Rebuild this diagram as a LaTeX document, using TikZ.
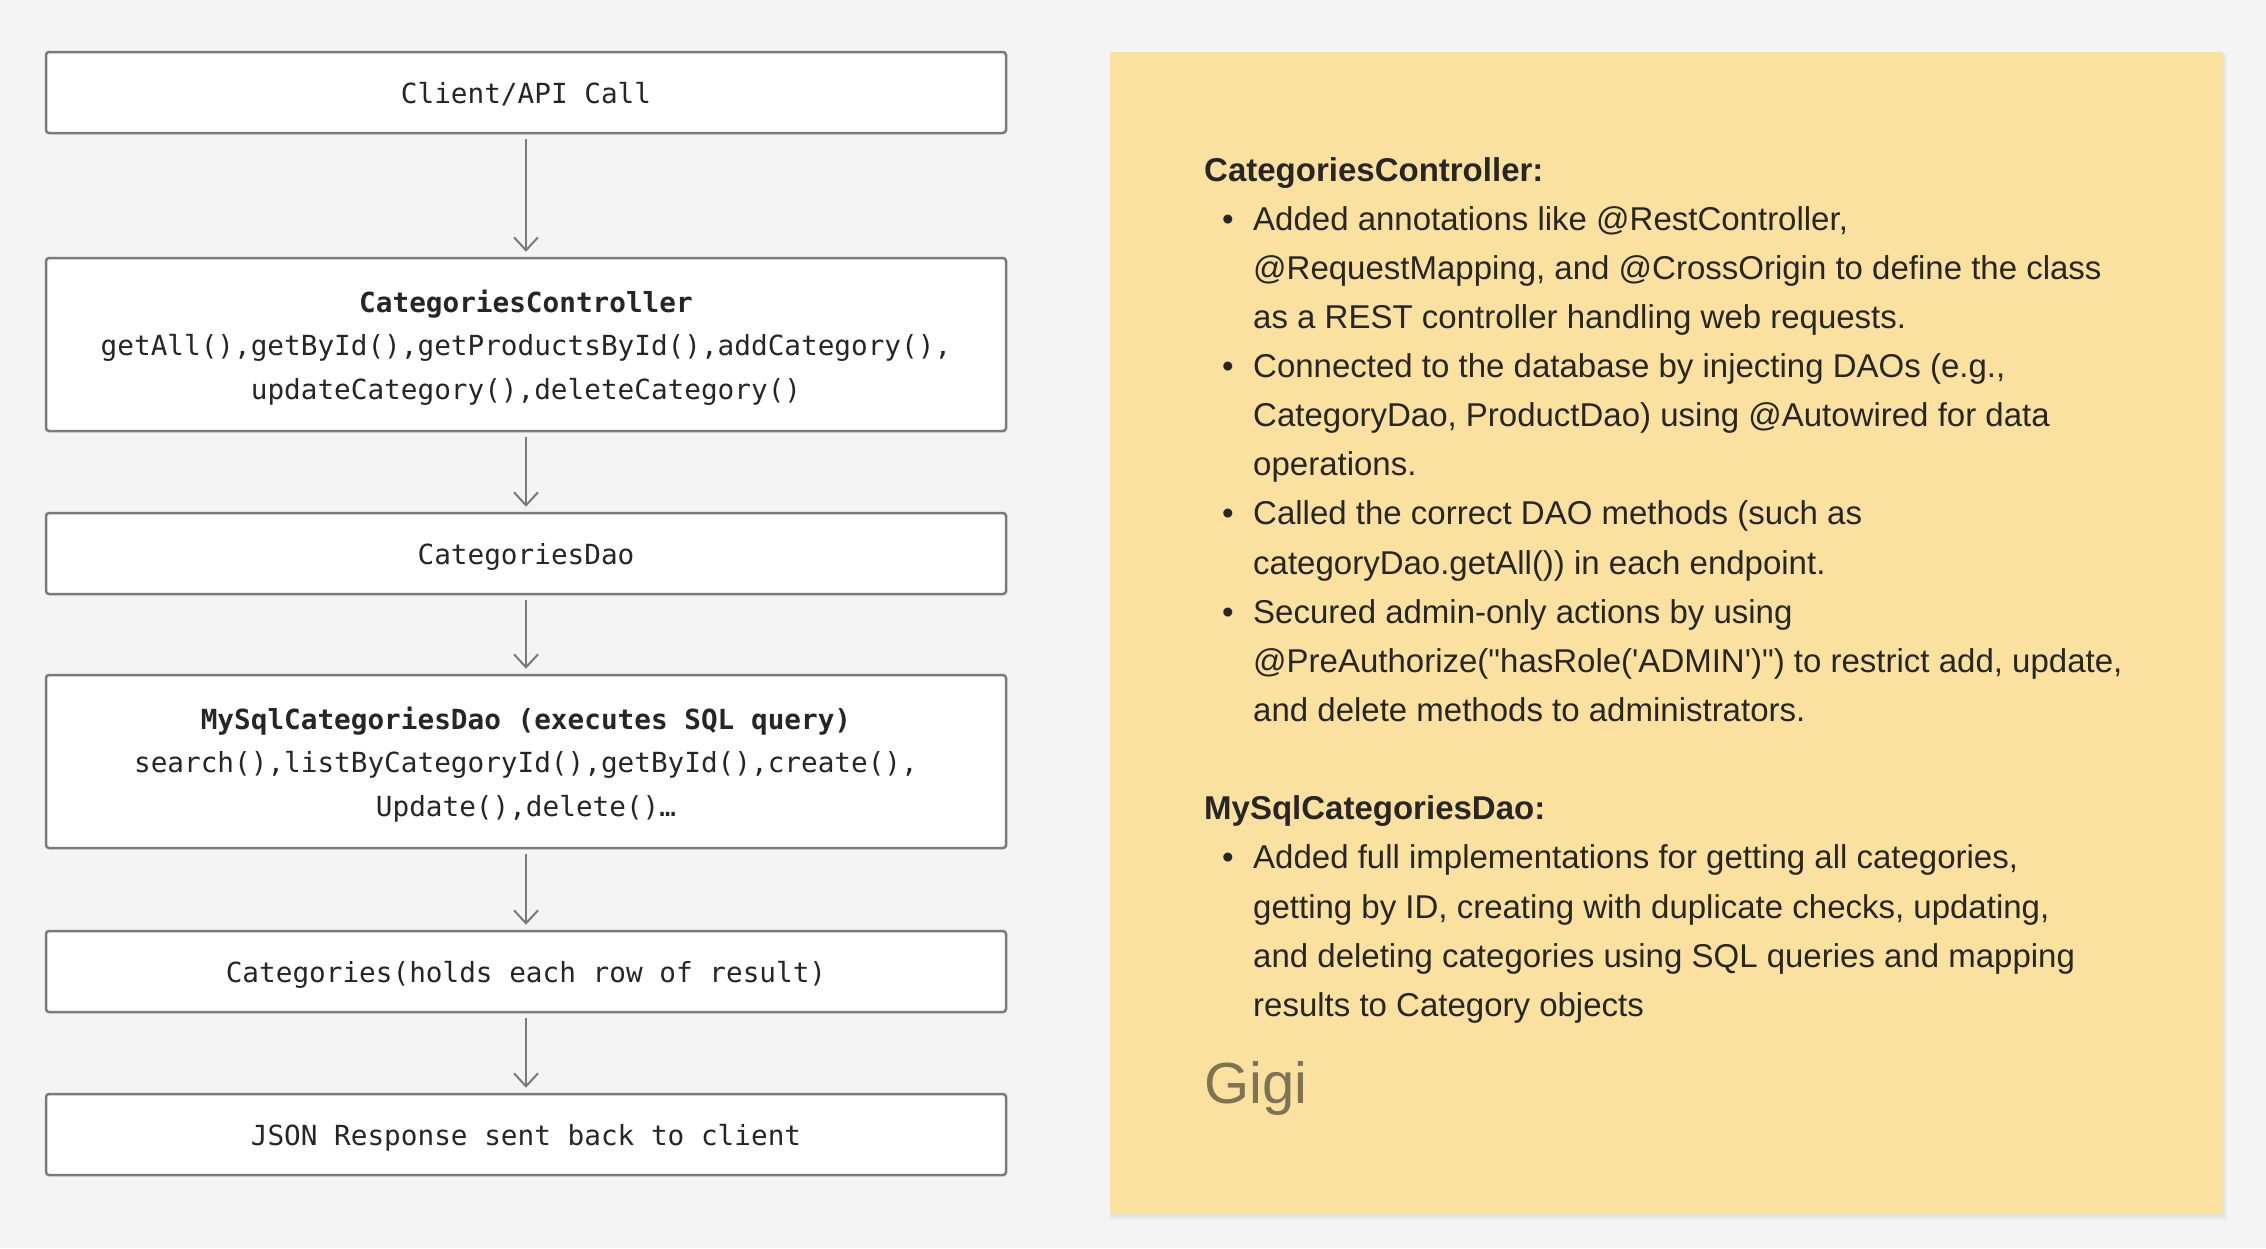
\documentclass[tikz,border=0pt]{standalone}
\usepackage{fontspec}
\setmainfont{Liberation Sans}
\setmonofont{DejaVu Sans Mono}
\usetikzlibrary{arrows.meta}
\definecolor{bg}{HTML}{F4F4F4}
\definecolor{boxline}{HTML}{7A7A7A}
\definecolor{txt}{HTML}{262626}
\definecolor{note}{HTML}{FAE19F}
\definecolor{gigi}{HTML}{7E7455}
\newcommand\monofnt{\fontsize{27.7pt}{43.4pt}\selectfont\ttfamily}
\newcommand\notefnt{\fontsize{33pt}{49.1pt}\selectfont}
\tikzset{
  flowbox/.style={draw=boxline, line width=2.5pt, fill=white, rounded corners=3pt,
    minimum width=960pt, inner sep=0pt, align=center, font=\monofnt, text=txt,
    text depth=0pt},
  flowarrow/.style={draw=boxline, line width=2pt,
    -{Straight Barb[length=13pt,width=24pt,line width=2pt]},
    shorten <=5pt, shorten >=5pt},
  noteline/.style={anchor=base west, inner sep=0pt, font=\notefnt, text=txt},
  notehead/.style={anchor=base west, inner sep=0pt, font=\notefnt\bfseries, text=txt},
  notebullet/.style={anchor=base, inner sep=0pt, font=\notefnt, text=txt},
}
\begin{document}
\begin{tikzpicture}[x=1pt,y=-1pt]
\fill[bg] (0,0) rectangle (2266,1248);
\useasboundingbox (0,0) rectangle (2266,1248);
% note panel with soft shadow
\fill[black,opacity=0.03] (1110,54) rectangle (2227,1220);
\fill[black,opacity=0.04] (1111,55) rectangle (2225,1217);
\fill[note] (1110,52) rectangle (2223,1214);

% flow boxes
\node[flowbox, minimum height=81pt] (client) at (526,92.5) {Client/API Call};
\node[flowbox, minimum height=173pt] (ctrl) at (526,344.5)
  {\textbf{CategoriesController}\\getAll(),getById(),getProductsById(),addCategory(),\\updateCategory(),deleteCategory()};
\node[flowbox, minimum height=81pt] (dao) at (526,553.5) {CategoriesDao};
\node[flowbox, minimum height=173pt] (mysql) at (526,761.5)
  {\textbf{MySqlCategoriesDao (executes SQL query)}\\search(),listByCategoryId(),getById(),create(),\\Update(),delete()…};
\node[flowbox, minimum height=81pt] (cats) at (526,971.5) {Categories(holds each row of result)};
\node[flowbox, minimum height=81pt] (json) at (526,1134.5) {JSON Response sent back to client};

\draw[flowarrow] (client) -- (ctrl);
\draw[flowarrow] (ctrl) -- (dao);
\draw[flowarrow] (dao) -- (mysql);
\draw[flowarrow] (mysql) -- (cats);
\draw[flowarrow] (cats) -- (json);

% note text
\node[notehead] (h1) at (1204,181) {CategoriesController:};
\node[notebullet] (b1) at (1228,230) {\textbullet};
\node[noteline] (l1) at (1253,230) {Added annotations like @RestController,};
\node[noteline] (l2) at (1253,279.2) {@RequestMapping, and @CrossOrigin to define the class};
\node[noteline] (l3) at (1253,328.3) {as a REST controller handling web requests.};
\node[notebullet] (b2) at (1228,377.4) {\textbullet};
\node[noteline] (l4) at (1253,377.4) {Connected to the database by injecting DAOs (e.g.,};
\node[noteline] (l5) at (1253,426.5) {CategoryDao, ProductDao) using @Autowired for data};
\node[noteline] (l6) at (1253,475.7) {operations.};
\node[notebullet] (b3) at (1228,524.8) {\textbullet};
\node[noteline] (l7) at (1253,524.8) {Called the correct DAO methods (such as};
\node[noteline] (l8) at (1253,574) {categoryDao.getAll()) in each endpoint.};
\node[notebullet] (b4) at (1228,623.1) {\textbullet};
\node[noteline] (l9) at (1253,623.1) {Secured admin-only actions by using};
\node[noteline] (l10) at (1253,672.2) {@PreAuthorize(\textquotedbl hasRole(\textquotesingle ADMIN\textquotesingle)\textquotedbl) to restrict add, update,};
\node[noteline] (l11) at (1253,721.3) {and delete methods to administrators.};

\node[notehead] (h2) at (1204,819.8) {MySqlCategoriesDao:};
\node[notebullet] (b5) at (1228,868.9) {\textbullet};
\node[noteline] (l12) at (1253,868.9) {Added full implementations for getting all categories,};
\node[noteline] (l13) at (1253,918) {getting by ID, creating with duplicate checks, updating,};
\node[noteline] (l14) at (1253,967.2) {and deleting categories using SQL queries and mapping};
\node[noteline] (l15) at (1253,1016.3) {results to Category objects};

\node[anchor=base west, inner sep=0pt, font=\fontsize{58pt}{60pt}\selectfont, text=gigi] (sig) at (1204,1103) {Gigi};
\end{tikzpicture}
\end{document}
